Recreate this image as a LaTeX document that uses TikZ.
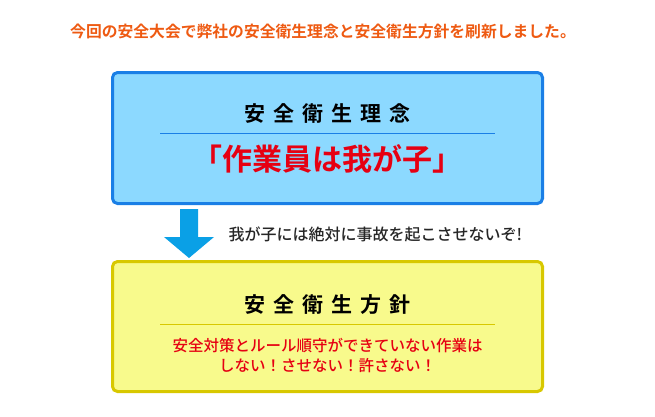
\documentclass[tikz,border=0pt]{standalone}
\usepackage{fontspec}
\setmainfont{Noto Sans CJK JP}[BoldFont={Noto Sans CJK JP Bold}]
\newfontfamily\midweight{Noto Sans CJK JP Medium}
\definecolor{leadorange}{HTML}{EE5A12}
\definecolor{skyfill}{HTML}{8CD9FF}
\definecolor{skyline}{HTML}{1A7FE6}
\definecolor{arrowblue}{HTML}{0AA0E6}
\definecolor{lemonfill}{HTML}{F8FA8C}
\definecolor{lemonline}{HTML}{D8C800}
\definecolor{alertred}{HTML}{E60012}
\newcommand{\gap}{\hspace{8pt}}
\tikzset{
    panel/.style={line width=3pt, rounded corners=5pt, minimum width=430pt, inner sep=0pt},
    headtext/.style={font=\bfseries\fontsize{21}{24}\selectfont, text=black},
}
\begin{document}
\begin{tikzpicture}[x=1pt,y=-1pt]
                    \useasboundingbox (0,0) rectangle (655,416);

                    \node[text=leadorange, font=\bfseries\fontsize{15.8}{18}\selectfont] (lead) at (323,31) {今回の安全大会で弊社の安全衛生理念と安全衛生方針を刷新しました。};

                    \node[panel, draw=skyline, fill=skyfill, minimum height=131pt] (rinen) at (327.5,138) {};
                    \node[headtext] (rinenhead) at (327.5,113) {安\gap 全\gap 衛\gap 生\gap 理\gap 念};
                    \node[text=alertred, font=\bfseries\fontsize{30}{36}\selectfont] (rinenbody) at (327.5,159) {「作業員は我が子」};
                    \coordinate (rinenL) at (160,133);
                    \coordinate (rinenR) at (495,133);

                    \node[panel, draw=lemonline, fill=lemonfill, minimum height=130pt] (hoshin) at (327.5,326.5) {};
                    \node[headtext] (hoshinhead) at (327.5,305) {安\gap 全\gap 衛\gap 生\gap 方\gap 針};
                    \node[text=alertred, align=center, font=\midweight\fontsize{15.5}{20}\selectfont] (hoshinbody) at (327.5,356) {安全対策とルール順守ができていない作業は\\しない！させない！許さない！};
                    \coordinate (hoshinL) at (160,324);
                    \coordinate (hoshinR) at (495,324);

                    \node[anchor=west, font=\midweight\fontsize{16}{18}\selectfont, text=black!85] (vow) at (225,234) {我が子には絶対に事故を起こさせないぞ!};

                    \draw[skyline] (rinenL)--(rinenR);
                    \draw[lemonline] (hoshinL)--(hoshinR);
                    \fill[arrowblue] (180,209)--(198,209)--(198,237)--(214,237)--(189,258)--(164,237)--(180,237)--cycle;
                \end{tikzpicture}
\end{document}
